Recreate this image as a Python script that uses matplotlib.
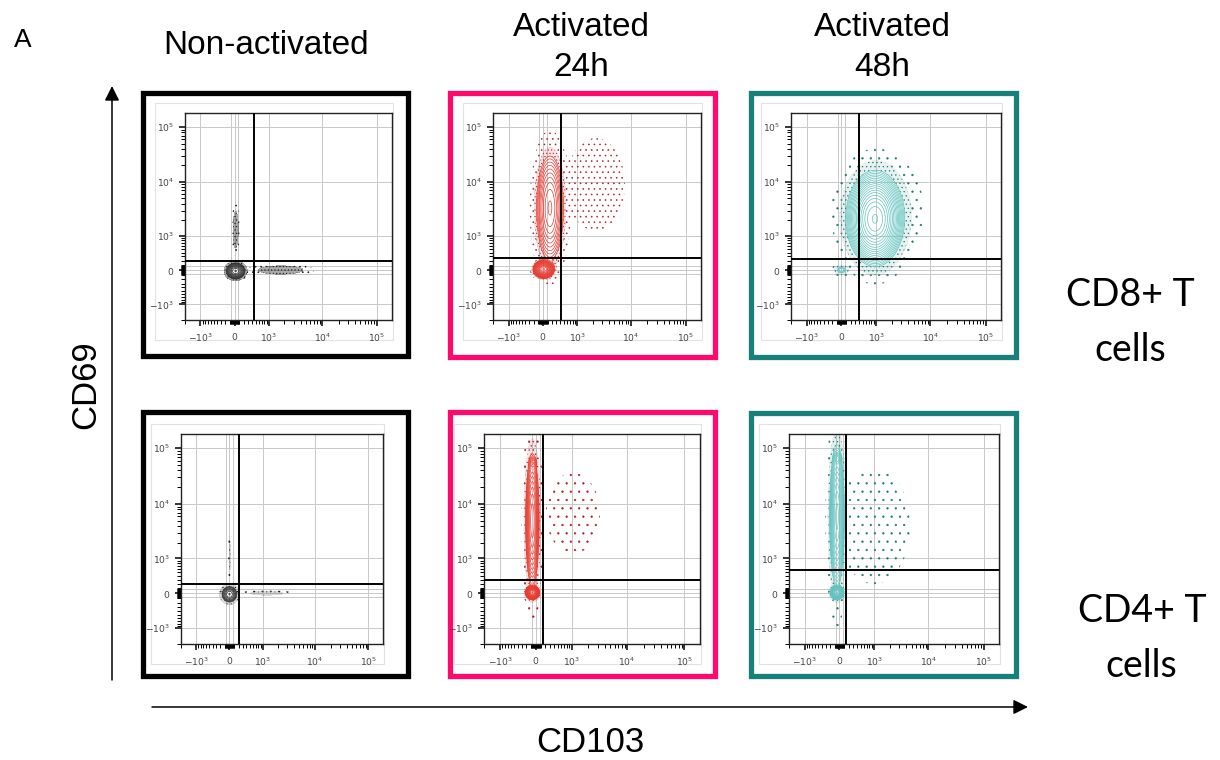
import numpy as np
import matplotlib
matplotlib.use("Agg")
import matplotlib.pyplot as plt
from matplotlib.patches import Rectangle
from matplotlib.colors import to_rgba

# ---------------- data ----------------
col_titles = [["Non-activated"], ["Activated", "24h"], ["Activated", "48h"]]
row_titles = [["CD8+ T", "cells"], ["CD4+ T", "cells"]]
x_label = "CD103"
y_label = "CD69"
panel_letter = "A"

tick_values = [-1000, 0, 1000, 10000, 100000]
tick_labels = [r"$-10^{3}$", r"$0$", r"$10^{3}$", r"$10^{4}$", r"$10^{5}$"]

# populations per panel: centre CD103, centre CD69 (fluorescence units),
# spread in CD103 / CD69 (arcsinh units), relative weight
p1_cx = [20, 20, 1700];            p1_cy = [-20, 1300, 0]
p1_sx = [0.14, 0.07, 0.60];        p1_sy = [0.12, 0.50, 0.11];   p1_w = [1.0, 0.02, 0.04]

p2_cx = [15, 150, 2250];           p2_cy = [15, 3340, 9000]
p2_sx = [0.15, 0.26, 0.60];        p2_sy = [0.13, 1.00, 0.95];   p2_w = [0.35, 0.60, 0.05]

p3_cx = [950, 0, 1100];            p3_cy = [2100, 0, 3000]
p3_sx = [0.45, 0.15, 0.85];        p3_sy = [0.75, 0.10, 1.10];   p3_w = [1.0, 0.0025, 0.05]

p4_cx = [0, 10, 1200];             p4_cy = [-20, 1065, 0]
p4_sx = [0.12, 0.04, 0.55];        p4_sy = [0.12, 0.60, 0.06];   p4_w = [1.0, 0.005, 0.01]

p5_cx = [-70, -70, -60, 1065];     p5_cy = [15, 5000, 55000, 6800]
p5_sx = [0.10, 0.12, 0.08, 0.65];  p5_sy = [0.10, 1.20, 0.12, 1.00]; p5_w = [0.25, 0.75, 0.01, 0.02]

p6_cx = [-50, -50, -40, 1000];     p6_cy = [15, 6000, 65000, 4000]
p6_sx = [0.10, 0.13, 0.08, 0.75];  p6_sy = [0.10, 1.25, 0.12, 1.20]; p6_w = [0.2, 0.8, 0.012, 0.04]

# quadrant gates (CD103, CD69)
gate_x = [460, 425, 390, 206, 145, 137]
gate_y = [184, 260, 245, 190, 277, 570]

# ---------------- styling ----------------
W, H = 1220, 760
fig = plt.figure(figsize=(W / 100, H / 100), dpi=100)
fig.patch.set_facecolor("white")

ov = fig.add_axes([0, 0, 1, 1], zorder=0)
ov.set_xlim(0, W)
ov.set_ylim(H, 0)
ov.axis("off")

SANS = ["Liberation Sans", "DejaVu Sans"]
CAL = ["Lato", "DejaVu Sans"]

border_cols = ["#000000", "#FF0A6C", "#17807B"]
line_cols = ["#2a2a2a", "#E8392E", "#62C3BE"]
dot_cols = ["#111111", "#B51D25", "#1C7A73"]

ax_px = [(185, 113, 392, 320), (493, 113, 701, 320), (791, 113, 1001, 320),
         (181, 434, 383, 644), (484, 434, 700, 644), (789, 434, 999, 644)]
frame_px = [(142.5, 92.5, 407.5, 355.5), (449.5, 92.5, 714.5, 357), (751, 92.5, 1016, 357),
            (142.5, 411.5, 407.5, 676), (449.5, 411.5, 714.5, 676), (751, 412.5, 1016, 676)]

# contour start level, number of levels, stipple band levels, stipple hatches, dense-band tint
panels = [
    (p1_cx, p1_cy, p1_sx, p1_sy, p1_w, 0.02, 11, [0.0006, 0.003, 0.02], ["...", "....."], 0.35),
    (p2_cx, p2_cy, p2_sx, p2_sy, p2_w, 0.012, 18, [0.0006, 0.005, 0.012], ["...", "....."], 0.12),
    (p3_cx, p3_cy, p3_sx, p3_sy, p3_w, 0.03, 18, [0.0015, 0.008, 0.03], ["..", "...."], 0.10),
    (p4_cx, p4_cy, p4_sx, p4_sy, p4_w, 0.03, 8, [0.0005, 0.002, 0.03], ["..", "...."], 0.15),
    (p5_cx, p5_cy, p5_sx, p5_sy, p5_w, 0.015, 18, [0.0003, 0.004, 0.015], ["..", "...."], 0.12),
    (p6_cx, p6_cy, p6_sx, p6_sy, p6_w, 0.015, 18, [0.0003, 0.004, 0.015], ["..", "...."], 0.12),
]

COF = 500.0
def fwd(v):
    return np.arcsinh(np.asarray(v, dtype=float) / COF)
def inv(u):
    return COF * np.sinh(np.asarray(u, dtype=float))

minor = sorted(set([-100 * m for m in range(1, 10)] + [-2000] +
                   [s * m for s in (-1, 1) for m in range(10, 100, 10)] +
                   [m * d for d in (100, 1000, 10000) for m in range(1, 10)]))

ug = np.linspace(-2.3, 7.2, 520)
U, V = np.meshgrid(ug, ug)
X, Y = inv(U), inv(V)

for i, (cx, cy, sx, sy, w, c_lo, n_lev, bands, hatches, tint) in enumerate(panels):
    col = i % 3
    l, t, r, b = ax_px[i]
    ov.add_patch(Rectangle((l - 30, t - 10), (r - l) + 31, (b - t) + 30,
                           fill=False, ec="#e2e2e2", lw=0.8))
    fl, ft, fr, fb = frame_px[i]
    ov.add_patch(Rectangle((fl, ft), fr - fl, fb - ft, fill=False,
                           ec=border_cols[col], lw=3.8, joinstyle="miter"))

    ax = fig.add_axes([l / W, 1 - b / H, (r - l) / W, (b - t) / H], zorder=2)
    ax.set_xscale("function", functions=(fwd, inv))
    ax.set_yscale("function", functions=(fwd, inv))
    ax.set_xlim(-1700, 1.9e5)
    ax.set_ylim(-1800, 1.8e5)

    D = np.zeros_like(U)
    for k in range(len(cx)):
        ux, uy = fwd(cx[k]), fwd(cy[k])
        D += w[k] / (2 * np.pi * sx[k] * sy[k]) * np.exp(
            -0.5 * ((U - ux) / sx[k]) ** 2 - 0.5 * ((V - uy) / sy[k]) ** 2)
    D = D / D.max()

    with plt.rc_context({"hatch.color": dot_cols[col], "hatch.linewidth": 0.4}):
        ax.contourf(X, Y, D, levels=bands,
                    colors=[(1, 1, 1, 0), to_rgba(dot_cols[col], tint)],
                    hatches=hatches, zorder=1)
    ax.contour(X, Y, D, levels=np.geomspace(c_lo, 0.97, n_lev),
               colors=line_cols[col], linewidths=0.5, zorder=2)

    for gv in tick_values + [-80, 80]:
        ax.axvline(gv, color="#c8c8c8", lw=0.7, zorder=0)
        ax.axhline(gv, color="#c8c8c8", lw=0.7, zorder=0)
    ax.axvline(gate_x[i], color="black", lw=1.4, zorder=3)
    ax.axhline(gate_y[i], color="black", lw=1.4, zorder=3)

    ax.set_xticks(tick_values)
    ax.set_xticklabels(tick_labels)
    ax.set_yticks(tick_values)
    ax.set_yticklabels(tick_labels)
    ax.set_xticks(minor, minor=True)
    ax.set_yticks(minor, minor=True)
    ax.tick_params(which="major", direction="out", length=4.5, width=1.1,
                   labelsize=6.6, labelcolor="#444444", pad=3.5)
    ax.tick_params(which="minor", direction="out", length=3, width=0.7)
    for sp in ax.spines.values():
        sp.set_linewidth(1.0)
        sp.set_color("#222222")

# ---------------- texts ----------------
ov.text(14, 40, panel_letter, fontsize=19, family=SANS, ha="left", va="center")
col_cx = [266, 581, 882]
for c, lines in enumerate(col_titles):
    if len(lines) == 1:
        ov.text(col_cx[c], 45, lines[0], fontsize=24, family=SANS, ha="center", va="center")
    else:
        ov.text(col_cx[c], 28, lines[0], fontsize=24, family=SANS, ha="center", va="center")
        ov.text(col_cx[c], 68, lines[1], fontsize=24, family=SANS, ha="center", va="center")

row_pos = [((1130, 295), (1130, 350)), ((1142, 611), (1141, 666))]
for rr, lines in enumerate(row_titles):
    for (x, y), s in zip(row_pos[rr], lines):
        ov.text(x, y, s, fontsize=27, family=CAL, ha="center", va="center")

ov.text(86, 385, y_label, fontsize=25, family=SANS, rotation=90, ha="center", va="center")
ov.text(590, 742, x_label, fontsize=25, family=SANS, ha="center", va="center")

ov.annotate("", xy=(112, 86), xytext=(112, 680),
            arrowprops=dict(arrowstyle="-|>", lw=1.1, color="black", mutation_scale=22,
                            shrinkA=0, shrinkB=0))
ov.annotate("", xy=(1028, 707), xytext=(152, 707),
            arrowprops=dict(arrowstyle="-|>", lw=1.1, color="black", mutation_scale=22,
                            shrinkA=0, shrinkB=0))

fig.savefig("out.png", dpi=100)
